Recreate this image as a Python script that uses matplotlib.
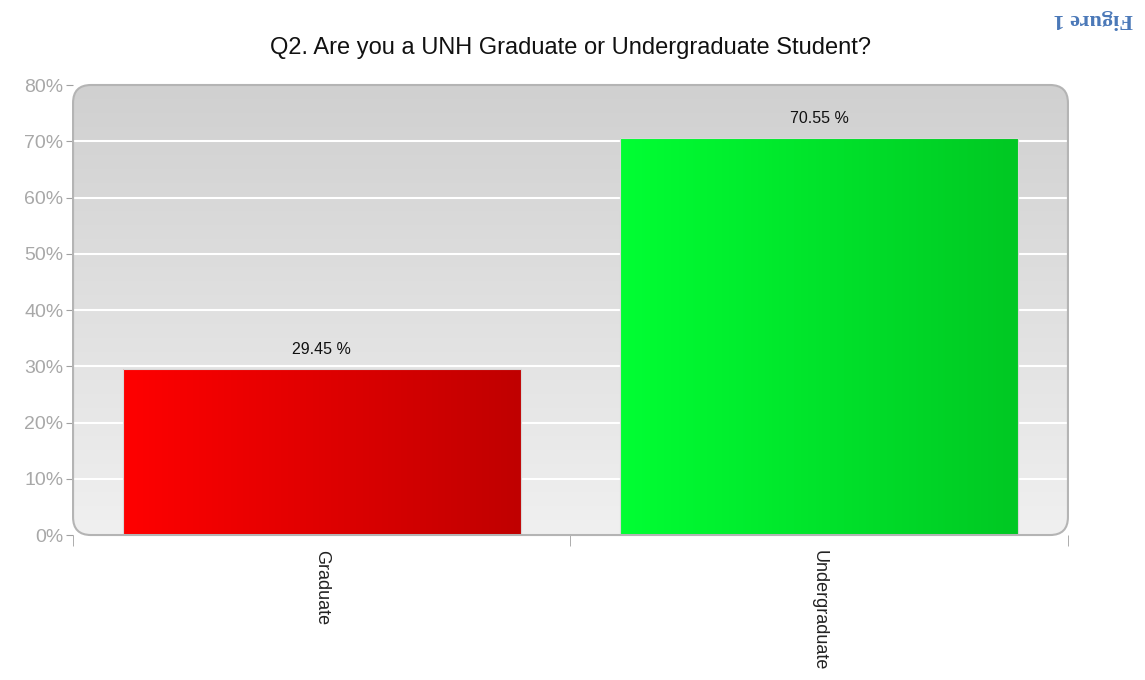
import numpy as np
import matplotlib
matplotlib.use('Agg')
import matplotlib.pyplot as plt
from matplotlib.patches import FancyBboxPatch
from matplotlib.colors import LinearSegmentedColormap

# Datos del grafico
categorias = ["Graduate", "Undergraduate"]
porcentajes = [29.45, 70.55]
etiquetas = ["29.45 %", "70.55 %"]
colores_izq = ["#ff0000", "#00ff33"]
colores_der = ["#c00000", "#00c823"]
yticks = [0, 10, 20, 30, 40, 50, 60, 70, 80]

plt.rcParams['font.family'] = ['Liberation Sans', 'DejaVu Sans']

fig = plt.figure(figsize=(11.45, 6.8), dpi=100)
ax = fig.add_axes([0.0638, 0.2132, 0.8689, 0.6618])
ax.set_xlim(-0.5, 1.5)
ax.set_ylim(0, 80)

# Fondo con degradado y esquinas redondeadas
aspecto = (0.8689 * 1145) / (0.6618 * 680)
marco = FancyBboxPatch((0, 0), 1, 1, boxstyle="round,pad=0,rounding_size=0.018",
                       mutation_aspect=aspecto, transform=ax.transAxes,
                       facecolor="none", edgecolor="#b4b4b4", linewidth=1.5,
                       zorder=5, clip_on=False)
ax.add_patch(marco)
fondo = LinearSegmentedColormap.from_list("fondo", ["#f0f0f0", "#d0d0d0"])
grad = np.linspace(0, 1, 256).reshape(-1, 1)
img = ax.imshow(grad, cmap=fondo, aspect="auto", extent=[0, 1, 0, 1],
                origin="lower", transform=ax.transAxes, zorder=0)
img.set_clip_path(marco)

for y in yticks[1:-1]:
    ax.axhline(y, color="white", linewidth=1.5, zorder=1)

# Barras con degradado horizontal
barras = ax.bar(range(len(categorias)), porcentajes, width=0.8,
                color="none", edgecolor="#d8d8d8", linewidth=0.8, zorder=3)
gradx = np.linspace(0, 1, 256).reshape(1, -1)
for i, b in enumerate(barras):
    cmap = LinearSegmentedColormap.from_list("b%d" % i, [colores_izq[i], colores_der[i]])
    x0, y0 = b.get_x(), b.get_y()
    im = ax.imshow(gradx, cmap=cmap, aspect="auto",
                   extent=[x0, x0 + b.get_width(), y0, y0 + b.get_height()],
                   zorder=2)
    im.set_clip_path(b)
    ax.text(b.get_x() + b.get_width() / 2, b.get_height() + 2.2, etiquetas[i],
            ha="center", va="bottom", fontsize=11.5, color="#111111")

ax.set_xlim(-0.5, 1.5)
ax.set_ylim(0, 80)
for s in ax.spines.values():
    s.set_visible(False)

ax.set_yticks(yticks)
ax.set_yticklabels(["%d%%" % v for v in yticks], color="#a8a8a8", fontsize=14)
ax.tick_params(axis="y", length=5, color="#a0a0a0", pad=2)

ax.set_xticks(range(len(categorias)))
ax.set_xticklabels(categorias, rotation=270, fontsize=13, color="#222222")
ax.tick_params(axis="x", which="major", length=0, pad=11)
ax.set_xticks([-0.5, 0.5, 1.5], minor=True)
ax.tick_params(axis="x", which="minor", length=8, color="#a0a0a0", pad=0)

fig.text(0.4985, 0.930, "Q2. Are you a UNH Graduate or Undergraduate Student?",
         ha="center", va="center", fontsize=17, color="#111111")
fig.text(0.955, 0.972, "Figure 1", ha="center", va="center", rotation=180,
         fontsize=16, fontweight="bold", color="#4a78b8",
         family=["Liberation Serif", "DejaVu Serif"])

fig.savefig("out.png", dpi=100)
